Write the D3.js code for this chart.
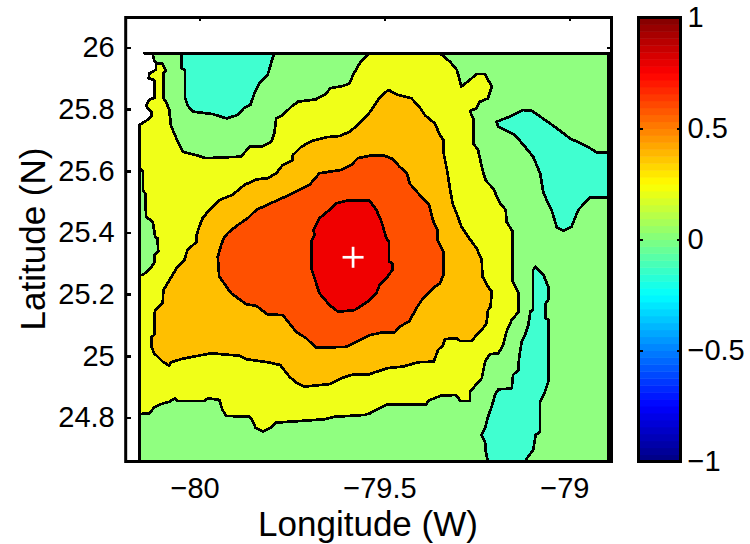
<!DOCTYPE html>
<html>
<head>
<meta charset="utf-8">
<script src="https://cdn.jsdelivr.net/npm/d3@7"></script>
<style>
  body { margin: 0; background: #fff; }
  text { font-family: "Liberation Sans", sans-serif; fill: #000; }
</style>
</head>
<body>
<svg id="chart" width="750" height="544"></svg>
<script>
// tick labels
const lonTicks = [-80, -79.5, -79];
const lonLabels = ["\u221280", "\u221279.5", "\u221279"];
const latTicks = [26, 25.8, 25.6, 25.4, 25.2, 25, 24.8];
const latLabels = ["26", "25.8", "25.6", "25.4", "25.2", "25", "24.8"];
const barTicks = [1, 0.5, 0, -0.5, -1];
const barLabels = ["1", "0.5", "0", "\u22120.5", "\u22121"];

// jet colormap stops for the colorbar
const jetStops = [-1, -0.75, -0.25, 0.25, 0.75, 1];
const jetColors = ["#000080", "#0000ff", "#00ffff", "#ffff00", "#ff0000", "#800000"];

// filled contour colours, low to high
const tealFill = "#40ffd0";
const greenFill = "#90ff80";
const yellowFill = "#f0ff18";
const orangeFill = "#ffbf00";
const redOrangeFill = "#ff5000";
const redFill = "#f00000";

// the peak
const peak = [-79.585, 25.3195];

// edge of the data along the coast, north to south
const coast = [[-80.150,25.981],[-80.127,25.979],[-80.123,25.959],[-80.118,25.949],[-80.118,25.929],[-80.127,25.921],
  [-80.136,25.916],[-80.138,25.900],[-80.123,25.895],[-80.121,25.838],[-80.136,25.830],[-80.145,25.811],[-80.138,25.800],
  [-80.130,25.792],[-80.130,25.776],[-80.145,25.762],[-80.162,25.749]];
const dataCorners = [[-80.162,24.657],[-78.894,24.657],[-78.894,25.981]];

// yellow band: top edge, east side, south side, then the small lens on the west edge
const yellowEast = [[-79.545,25.981],[-79.350,25.981],[-79.323,25.954],[-79.304,25.927],[-79.292,25.873],[-79.269,25.895],
  [-79.251,25.914],[-79.228,25.914],[-79.210,25.873],[-79.220,25.835],[-79.242,25.824],[-79.251,25.803],[-79.269,25.794],
  [-79.260,25.770],[-79.260,25.689],[-79.247,25.668],[-79.235,25.603],[-79.226,25.568],[-79.206,25.543],[-79.188,25.495],
  [-79.172,25.473],[-79.170,25.435],[-79.153,25.402],[-79.153,25.240],[-79.138,25.206],[-79.138,25.141],[-79.156,25.116],
  [-79.170,25.078],[-79.179,25.035],[-79.192,25.008],[-79.215,25.005],[-79.228,24.981],[-79.237,24.927],[-79.269,24.883],
  [-79.269,24.853],[-79.294,24.853],[-79.307,24.873],[-79.349,24.870],[-79.382,24.854],[-79.386,24.843],[-79.491,24.843],
  [-79.522,24.824],[-79.540,24.813],[-79.554,24.808],[-79.635,24.802],[-79.662,24.794],[-79.793,24.783],[-79.806,24.767],
  [-79.817,24.762],[-79.829,24.754],[-79.849,24.767],[-79.856,24.788],[-79.865,24.802],[-79.928,24.805],[-79.938,24.824],
  [-79.947,24.857],[-79.978,24.862],[-79.987,24.853],[-80.060,24.853],[-80.066,24.862],[-80.082,24.851],[-80.105,24.843],
  [-80.123,24.832],[-80.136,24.813],[-80.162,24.811],[-80.162,25.262],[-80.154,25.262],[-80.136,25.280],[-80.123,25.300],
  [-80.123,25.327],[-80.112,25.338],[-80.114,25.381],[-80.120,25.386],[-80.127,25.435],[-80.145,25.451],[-80.147,25.527],
  [-80.153,25.535],[-80.153,25.596],[-80.162,25.609]];
// yellow band: from the finger at the coast back to the top edge
const yellowNorth = [[-80.102,25.949],[-80.091,25.924],[-80.098,25.916],[-80.098,25.835],[-80.091,25.824],[-80.082,25.797],
  [-80.078,25.749],[-80.069,25.722],[-80.057,25.689],[-80.046,25.662],[-80.010,25.651],[-79.983,25.641],[-79.888,25.646],
  [-79.865,25.678],[-79.829,25.680],[-79.806,25.694],[-79.798,25.722],[-79.793,25.770],[-79.775,25.781],[-79.752,25.808],
  [-79.734,25.824],[-79.685,25.832],[-79.657,25.851],[-79.647,25.868],[-79.612,25.875],[-79.594,25.884],[-79.585,25.911],
  [-79.567,25.949],[-79.545,25.976]];

const orangeBand = [[-79.488,25.862],[-79.468,25.848],[-79.427,25.835],[-79.406,25.808],[-79.391,25.781],[-79.364,25.754],
  [-79.350,25.716],[-79.341,25.700],[-79.340,25.657],[-79.331,25.603],[-79.323,25.543],[-79.316,25.495],[-79.305,25.462],
  [-79.292,25.419],[-79.274,25.386],[-79.251,25.349],[-79.237,25.311],[-79.235,25.257],[-79.220,25.224],[-79.210,25.208],
  [-79.213,25.159],[-79.220,25.148],[-79.224,25.105],[-79.237,25.084],[-79.251,25.067],[-79.264,25.048],[-79.296,25.048],
  [-79.304,25.057],[-79.337,25.054],[-79.341,25.035],[-79.355,25.019],[-79.367,24.981],[-79.409,24.979],[-79.450,24.965],
  [-79.491,24.960],[-79.527,24.946],[-79.540,24.940],[-79.590,24.938],[-79.612,24.929],[-79.649,24.908],[-79.716,24.900],
  [-79.739,24.913],[-79.757,24.932],[-79.782,24.970],[-79.816,24.979],[-79.873,24.989],[-79.891,25.000],[-79.969,25.008],
  [-80.017,24.997],[-80.050,24.989],[-80.078,24.979],[-80.082,24.968],[-80.100,24.981],[-80.123,25.008],[-80.130,25.029],
  [-80.130,25.062],[-80.123,25.067],[-80.121,25.148],[-80.100,25.170],[-80.098,25.213],[-80.087,25.235],[-80.060,25.289],
  [-80.041,25.311],[-80.033,25.343],[-80.008,25.370],[-80.008,25.392],[-80.001,25.419],[-79.992,25.446],[-79.974,25.473],
  [-79.947,25.505],[-79.911,25.522],[-79.879,25.554],[-79.847,25.572],[-79.816,25.576],[-79.793,25.592],[-79.775,25.619],
  [-79.748,25.635],[-79.748,25.651],[-79.725,25.678],[-79.694,25.698],[-79.657,25.709],[-79.621,25.713],[-79.594,25.727],
  [-79.572,25.749],[-79.545,25.781],[-79.527,25.813],[-79.513,25.838],[-79.495,25.857]];

const redOrangeBand = [[-79.540,25.649],[-79.500,25.649],[-79.477,25.638],[-79.459,25.613],[-79.439,25.592],[-79.432,25.559],
  [-79.405,25.522],[-79.379,25.489],[-79.369,25.440],[-79.357,25.408],[-79.357,25.376],[-79.341,25.338],[-79.341,25.262],
  [-79.350,25.235],[-79.369,25.219],[-79.396,25.186],[-79.414,25.154],[-79.432,25.113],[-79.459,25.094],[-79.472,25.076],
  [-79.508,25.075],[-79.540,25.067],[-79.576,25.046],[-79.603,25.029],[-79.685,25.026],[-79.712,25.057],[-79.739,25.078],
  [-79.775,25.132],[-79.816,25.134],[-79.847,25.162],[-79.874,25.167],[-79.915,25.203],[-79.947,25.257],[-79.951,25.321],
  [-79.942,25.359],[-79.933,25.386],[-79.920,25.402],[-79.897,25.424],[-79.870,25.446],[-79.847,25.473],[-79.798,25.500],
  [-79.757,25.522],[-79.703,25.554],[-79.676,25.592],[-79.617,25.603],[-79.590,25.619],[-79.572,25.641]];

const redCore = [[-79.603,25.503],[-79.540,25.503],[-79.522,25.473],[-79.508,25.435],[-79.495,25.381],[-79.488,25.370],
  [-79.488,25.305],[-79.479,25.300],[-79.479,25.278],[-79.495,25.251],[-79.513,25.230],[-79.522,25.203],[-79.540,25.181],
  [-79.545,25.176],[-79.581,25.148],[-79.626,25.143],[-79.649,25.165],[-79.676,25.203],[-79.689,25.251],[-79.698,25.284],
  [-79.698,25.370],[-79.689,25.392],[-79.692,25.408],[-79.676,25.446],[-79.649,25.473],[-79.630,25.495]];

const tealNorthWest = [[-80.049,25.981],[-80.049,25.933],[-80.040,25.927],[-80.040,25.840],[-80.033,25.813],[-80.019,25.792],
  [-79.965,25.784],[-79.927,25.770],[-79.897,25.781],[-79.879,25.805],[-79.863,25.813],[-79.852,25.851],[-79.838,25.884],
  [-79.816,25.911],[-79.804,25.960],[-79.798,25.981]];

const tealEast = [[-79.197,25.759],[-79.165,25.774],[-79.125,25.797],[-79.102,25.795],[-79.079,25.776],[-79.034,25.738],
  [-78.998,25.705],[-78.953,25.680],[-78.926,25.660],[-78.894,25.660],[-78.894,25.514],[-78.944,25.514],[-78.976,25.473],
  [-78.994,25.419],[-79.016,25.406],[-79.034,25.417],[-79.048,25.473],[-79.070,25.527],[-79.079,25.592],[-79.098,25.646],
  [-79.120,25.678],[-79.147,25.716],[-79.192,25.743]];

const tealSouth = [[-79.091,25.289],[-79.070,25.262],[-79.057,25.224],[-79.057,25.181],[-79.064,25.170],[-79.064,25.122],
  [-79.057,25.116],[-79.057,24.916],[-79.066,24.883],[-79.079,24.851],[-79.079,24.754],[-79.091,24.743],[-79.098,24.694],
  [-79.115,24.667],[-79.120,24.657],[-79.220,24.657],[-79.226,24.689],[-79.228,24.721],[-79.237,24.743],[-79.228,24.765],
  [-79.220,24.802],[-79.210,24.835],[-79.201,24.873],[-79.192,24.891],[-79.156,24.894],[-79.152,24.938],[-79.138,24.954],
  [-79.136,24.992],[-79.129,25.046],[-79.120,25.067],[-79.111,25.100],[-79.105,25.145],[-79.098,25.148],[-79.098,25.278]];

const margin = { top: 17.5, right: 138.5, bottom: 82.5, left: 125.7 };
const width = 750;
const height = 544;
const tickFont = "29px";
const labelFont = "35px";

const svg = d3.select("#chart");

const x = d3.scaleLinear().domain([-80.2, -78.886]).range([margin.left, width - margin.right]);
const y = d3.scaleLinear().domain([26.0973, 24.657]).range([margin.top, height - margin.bottom]);

const lonLabel = (d) => lonLabels[lonTicks.indexOf(d)];
const latLabel = (d) => latLabels[latTicks.indexOf(d)];

// ticks go in first, the filled contours cover whatever falls on the data
const axes = svg.append("g");

axes.append("g")
  .attr("transform", `translate(0,${height - margin.bottom})`)
  .call(d3.axisBottom(x).tickValues(lonTicks).tickFormat(lonLabel).tickSizeInner(-3).tickPadding(16))
  .call((g) => g.selectAll("text").attr("dx", -5));
axes.append("g")
  .attr("transform", `translate(0,${margin.top})`)
  .call(d3.axisTop(x).tickValues(lonTicks).tickFormat("").tickSizeInner(-3));
axes.append("g")
  .attr("transform", `translate(${margin.left},0)`)
  .call(d3.axisLeft(y).tickValues(latTicks).tickFormat(latLabel).tickSizeInner(-5).tickPadding(11));
axes.append("g")
  .attr("transform", `translate(${width - margin.right},0)`)
  .call(d3.axisRight(y).tickValues(latTicks).tickFormat("").tickSizeInner(-5));

axes.selectAll(".domain").remove();
axes.selectAll("line").attr("stroke", "#000").attr("stroke-width", 2.6).attr("shape-rendering", "crispEdges");
axes.selectAll("text").style("font-size", tickFont).attr("fill", "#000");

// contours, outer band first
const line = d3.line().x((d) => x(d[0])).y((d) => y(d[1]));

const contours = [
  { fill: greenFill, points: coast.concat(dataCorners) },
  { fill: yellowFill, points: yellowEast.concat(coast.slice(3).reverse(), yellowNorth) },
  { fill: tealFill, points: tealNorthWest },
  { fill: tealFill, points: tealEast },
  { fill: tealFill, points: tealSouth },
  { fill: orangeFill, points: orangeBand },
  { fill: redOrangeFill, points: redOrangeBand },
  { fill: redFill, points: redCore },
];

svg.append("g")
  .selectAll("path")
  .data(contours)
  .join("path")
  .attr("d", (d) => line(d.points) + "Z")
  .attr("fill", (d) => d.fill)
  .attr("stroke", "#000")
  .attr("stroke-width", 2.7)
  .attr("stroke-linejoin", "round")
  .attr("shape-rendering", "crispEdges");

// plus on the peak
const arm = 10.5;
const plus = svg.append("g").attr("stroke", "#fff").attr("stroke-width", 2.7);
plus.append("line")
  .attr("x1", x(peak[0]) - arm).attr("x2", x(peak[0]) + arm)
  .attr("y1", y(peak[1])).attr("y2", y(peak[1]));
plus.append("line")
  .attr("x1", x(peak[0])).attr("x2", x(peak[0]))
  .attr("y1", y(peak[1]) - arm).attr("y2", y(peak[1]) + arm);

svg.append("rect")
  .attr("x", margin.left)
  .attr("y", margin.top)
  .attr("width", width - margin.left - margin.right)
  .attr("height", height - margin.top - margin.bottom)
  .attr("fill", "none")
  .attr("stroke", "#000")
  .attr("stroke-width", 3);

svg.append("text")
  .attr("x", 368)
  .attr("y", 536)
  .attr("text-anchor", "middle")
  .style("font-size", labelFont)
  .text("Longitude (W)");

svg.append("text")
  .attr("transform", "translate(45,239) rotate(-90)")
  .attr("text-anchor", "middle")
  .style("font-size", labelFont)
  .text("Latitude (N)");

// colorbar
const barLeft = 638.5;
const barRight = 680.5;
const barScale = d3.scaleLinear().domain([-1, 1]).range([height - margin.bottom, margin.top]);
const jet = d3.scaleLinear().domain(jetStops).range(jetColors);
const bands = d3.range(64);
const bandY = d3.scaleBand().domain(bands).range([height - margin.bottom, margin.top]);

svg.append("g")
  .selectAll("rect")
  .data(bands)
  .join("rect")
  .attr("x", barLeft)
  .attr("width", barRight - barLeft)
  .attr("y", (d) => bandY(d))
  .attr("height", bandY.bandwidth() + 0.5)
  .attr("fill", (d) => jet(-1 + (2 * (d + 0.5)) / 64));

const barAxes = svg.append("g");
barAxes.append("g")
  .attr("transform", `translate(${barLeft},0)`)
  .call(d3.axisLeft(barScale).tickValues(barTicks).tickFormat("").tickSizeInner(-4));
barAxes.append("g")
  .attr("transform", `translate(${barRight},0)`)
  .call(d3.axisRight(barScale).tickValues(barTicks)
    .tickFormat((d) => barLabels[barTicks.indexOf(d)]).tickSizeInner(-4).tickPadding(7));
barAxes.selectAll(".domain").remove();
barAxes.selectAll("line").attr("stroke", "#000").attr("stroke-width", 2.6).attr("shape-rendering", "crispEdges");
barAxes.selectAll("text").style("font-size", tickFont).attr("fill", "#000");

svg.append("rect")
  .attr("x", barLeft)
  .attr("y", margin.top)
  .attr("width", barRight - barLeft)
  .attr("height", height - margin.top - margin.bottom)
  .attr("fill", "none")
  .attr("stroke", "#000")
  .attr("stroke-width", 3);
</script>
</body>
</html>
